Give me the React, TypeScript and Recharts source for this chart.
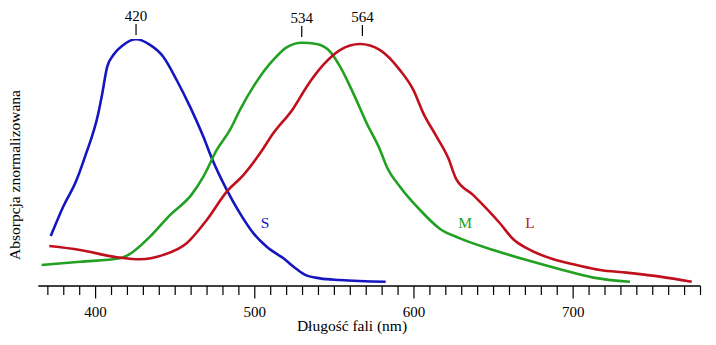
import React from 'react';
import { LineChart, Line, XAxis, YAxis, ReferenceDot, Customized } from 'recharts';

// wavelengths (nm) and normalised absorption
const sNm = [371.8, 379.7, 387.7, 393.3, 401.7, 403.8, 407.3, 411.1, 417.4, 425.4, 434.2, 442.5, 450.9, 459.3, 467.7, 473, 482.4, 490.7, 499.2, 507.5, 518, 526, 532, 541, 553.5, 582.2];
const sAbs = [0.202, 0.322, 0.424, 0.523, 0.699, 0.766, 0.888, 0.935, 0.976, 0.999, 0.976, 0.928, 0.834, 0.726, 0.604, 0.517, 0.389, 0.294, 0.213, 0.159, 0.112, 0.07, 0.044, 0.031, 0.024, 0.017];

const mNm = [366.1, 390.2, 415.3, 421.6, 434.2, 446.7, 460.4, 467.7, 476.1, 484.4, 490.7, 499.1, 511.6, 520, 529.5, 538.9, 547.3, 553.6, 561.9, 570.3, 578.7, 582.9, 591.2, 603.8, 616.4, 628.9, 649.8, 670.8, 691.7, 712.7, 735.7];
const mAbs = [0.085, 0.098, 0.112, 0.13, 0.2, 0.287, 0.371, 0.443, 0.551, 0.632, 0.713, 0.807, 0.915, 0.966, 0.985, 0.98, 0.949, 0.888, 0.78, 0.659, 0.551, 0.483, 0.402, 0.308, 0.231, 0.193, 0.146, 0.105, 0.068, 0.034, 0.017];

const lNm = [370.9, 390.2, 411.1, 427.9, 442.6, 457.2, 469.8, 482.4, 492.8, 503.3, 511.6, 524.2, 532.6, 543, 553.5, 566.1, 578.7, 591.2, 599.6, 605.9, 614.3, 621.6, 626.4, 637.3, 654, 662.4, 670.8, 687.6, 702.2, 716.9, 733.6, 754.6, 774.5];
const lAbs = [0.162, 0.146, 0.119, 0.108, 0.126, 0.173, 0.267, 0.382, 0.449, 0.537, 0.618, 0.719, 0.807, 0.895, 0.955, 0.98, 0.955, 0.874, 0.794, 0.699, 0.604, 0.517, 0.435, 0.368, 0.254, 0.189, 0.153, 0.108, 0.085, 0.065, 0.054, 0.038, 0.017];

const peakLabels = ['420', '534', '564'];
const peakNm = [425.4, 529.5, 567.6];
const peakAbs = [1.016, 1.008, 1.012];

const curveNames = ['S', 'M', 'L'];
const curveColors = ['#1616c0', '#22a022', '#c0101e'];
const nameNm = [506.4, 632.1, 672.9];
const nameAbs = [0.256, 0.256, 0.256];

const majorTicks = [400, 500, 600, 700];
const allTicks = Array.from({ length: 42 }, (_, i) => 370 + i * 10);

const toRows = (xs: number[], ys: number[]) => xs.map((nm, i) => ({ nm, abs: ys[i] }));
const series = [toRows(sNm, sAbs), toRows(mNm, mAbs), toRows(lNm, lAbs)];

const FONT = '"Liberation Serif", "DejaVu Serif", serif';

const AxisTick = (props: any) => {
  const { x, y, payload } = props;
  const major = majorTicks.includes(payload.value);
  return (
    <g>
      <line x1={x} x2={x} y1={y} y2={y + (major ? 12.5 : 9)} stroke="#000" strokeWidth={1.2} />
      {major && (
        <text x={x} y={y + 31} textAnchor="middle" fontFamily={FONT} fontSize={15} fill="#000">
          {payload.value}
        </text>
      )}
    </g>
  );
};

const PeakMark = (label: string) => (props: any) => {
  const { cx, cy } = props;
  return (
    <g>
      <line x1={cx} x2={cx} y1={cy - 11} y2={cy} stroke="#000" strokeWidth={1.2} />
      <text x={cx} y={cy - 14} textAnchor="middle" fontFamily={FONT} fontSize={15} fill="#000">
        {label}
      </text>
    </g>
  );
};

const NameMark = (label: string, color: string) => (props: any) => {
  const { cx, cy } = props;
  return (
    <text x={cx} y={cy + 5} textAnchor="middle" fontFamily={FONT} fontSize={15.5} fill={color}>
      {label}
    </text>
  );
};

const Titles = () => (
  <g fontFamily={FONT} fontSize={15.5} fill="#000">
    <text x={352} y={331} textAnchor="middle">Długość fali (nm)</text>
    <text x={20} y={175} textAnchor="middle" transform="rotate(-90 20 175)">Absorpcja znormalizowana</text>
  </g>
);

export default function App() {
  return (
    <div style={{ position: 'absolute', left: 0, top: 0 }}>
      <LineChart width={716} height={345} margin={{ top: 39, right: 15.5, bottom: 0, left: 38.3 }}>
        <XAxis
          type="number"
          dataKey="nm"
          domain={[364, 780]}
          allowDataOverflow
          ticks={allTicks}
          interval={0}
          tick={<AxisTick />}
          tickSize={0}
          tickMargin={0}
          tickLine={false}
          axisLine={{ stroke: '#000', strokeWidth: 1.4 }}
          height={59}
        />
        <YAxis type="number" domain={[0, 1]} hide allowDataOverflow />
        {series.map((rows, i) => (
          <Line
            key={curveNames[i]}
            data={rows}
            dataKey="abs"
            type="monotone"
            stroke={curveColors[i]}
            strokeWidth={2.6}
            dot={false}
            activeDot={false}
            isAnimationActive={false}
          />
        ))}
        {peakLabels.map((label, i) => (
          <ReferenceDot key={label} x={peakNm[i]} y={peakAbs[i]} ifOverflow="visible" shape={PeakMark(label)} />
        ))}
        {curveNames.map((name, i) => (
          <ReferenceDot key={name} x={nameNm[i]} y={nameAbs[i]} ifOverflow="visible" shape={NameMark(name, curveColors[i])} />
        ))}
        <Customized component={Titles} />
      </LineChart>
    </div>
  );
}
